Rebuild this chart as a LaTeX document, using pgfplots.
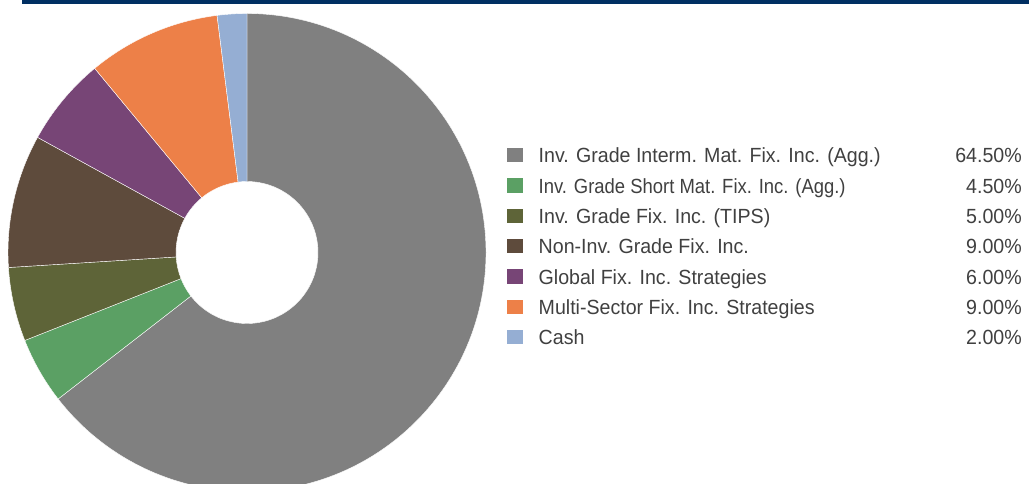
\documentclass[border=0pt]{standalone}
\usepackage{fontspec}
\setmainfont{Liberation Sans}
\usepackage{graphicx}
\usepackage{pgfplots}
\usepackage{pgfplotstable}
\pgfplotsset{compat=1.18}
\usetikzlibrary{calc}

\definecolor{navybar}{HTML}{002F62}
\definecolor{legendtext}{HTML}{404040}
\definecolor{slice0}{HTML}{808080}
\definecolor{slice1}{HTML}{5BA064}
\definecolor{slice2}{HTML}{5E6438}
\definecolor{slice3}{HTML}{5E4B3C}
\definecolor{slice4}{HTML}{774576}
\definecolor{slice5}{HTML}{ED8048}
\definecolor{slice6}{HTML}{95AED3}

% asset allocation, in percent, clockwise from the top
\pgfplotstableread[col sep=comma]{
name,share
Inv. Grade Interm. Mat. Fix. Inc. (Agg.),64.5
Inv. Grade Short Mat. Fix. Inc. (Agg.),4.5
Inv. Grade Fix. Inc. (TIPS),5.0
Non-Inv. Grade Fix. Inc.,9.0
Global Fix. Inc. Strategies,6.0
Multi-Sector Fix. Inc. Strategies,9.0
Cash,2.0
}\allocation

% start and end angle of every slice, and its label and value
\def\cum{0}
\pgfplotsforeachungrouped \i in {0,...,6}{%
  \pgfplotstablegetelem{\i}{share}\of\allocation
  \let\val\pgfplotsretval
  \pgfmathsetmacro\aStart{90-3.6*\cum}%
  \pgfmathsetmacro\cum{\cum+\val}%
  \pgfmathsetmacro\aEnd{90-3.6*\cum}%
  \expandafter\xdef\csname sliceA\i\endcsname{\aStart}%
  \expandafter\xdef\csname sliceB\i\endcsname{\aEnd}%
  \expandafter\global\expandafter\let\csname sliceV\i\endcsname\val
  \pgfplotstablegetelem{\i}{name}\of\allocation
  \expandafter\global\expandafter\let\csname sliceN\i\endcsname\pgfplotsretval
}

% legend text is set slightly narrow; the second label more so
\newcommand\labelbox[2]{\ifnum#1=1 \scalebox{0.90}[1]{#2}\else\scalebox{0.956}[1]{#2}\fi}

\begin{document}
\begin{tikzpicture}
\begin{axis}[
  x=1pt, y=1pt,
  xmin=0, xmax=1029, ymin=0, ymax=483,
  hide axis, clip=false,
  at={(0,0)}, anchor=origin,
]
% rule along the top
\fill[navybar] (axis cs:22,479) rectangle (axis cs:1029,483);

% donut slices
\pgfplotsinvokeforeach{0,...,6}{
  \fill[slice#1, draw=white, line width=0.4pt]
    ($(axis cs:247,230.5)+(\csname sliceA#1\endcsname:239pt)$)
    arc[start angle=\csname sliceA#1\endcsname, end angle=\csname sliceB#1\endcsname, radius=239pt]
    -- ($(axis cs:247,230.5)+(\csname sliceB#1\endcsname:71pt)$)
    arc[start angle=\csname sliceB#1\endcsname, end angle=\csname sliceA#1\endcsname, radius=71pt]
    -- cycle;
}

% legend
\pgfplotsinvokeforeach{0,...,6}{
  \fill[slice#1] (axis cs:506.5,{483-163+0.5-30.3*#1}) rectangle ++(16pt,14.5pt);
  \node[anchor=base west, inner sep=0pt, text=legendtext,
        font=\fontsize{20.5}{24}\selectfont]
    at (axis cs:538.5,{483-163-30.3*#1}) {\labelbox{#1}{\csname sliceN#1\endcsname}};
  \node[anchor=base east, inner sep=0pt, text=legendtext,
        font=\fontsize{20.5}{24}\selectfont]
    at (axis cs:1022,{483-163-30.3*#1})
    {\scalebox{0.956}[1]{\pgfmathprintnumber[fixed,fixed zerofill,precision=2,assume math mode=true]{\csname sliceV#1\endcsname}\%}};
}
\end{axis}
\pgfresetboundingbox
\path[use as bounding box] (0,0) rectangle (1029pt,483pt);
\end{tikzpicture}
\end{document}
